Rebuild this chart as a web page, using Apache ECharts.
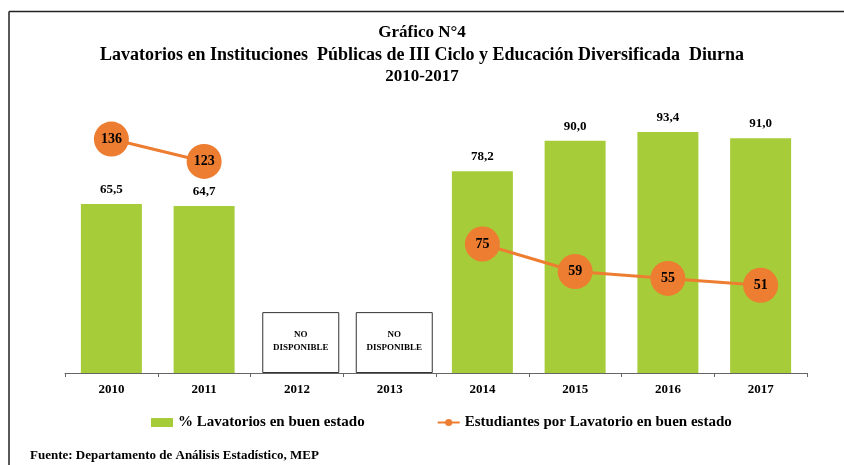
<!DOCTYPE html>
<html>
<head>
<meta charset="utf-8">
<script src="https://cdn.jsdelivr.net/npm/echarts@6/dist/echarts.min.js"></script>
<style>
html,body{margin:0;padding:0;background:#fff;}
#main{width:844px;height:465px;}
</style>
</head>
<body>
<div id="main"></div>
<script>
const years = ['2010','2011','2012','2013','2014','2015','2016','2017'];
const pctBuenEstado = [65.5, 64.7, null, null, 78.2, 90.0, 93.4, 91.0];
const estudiantesPorLavatorio = [136, 123, null, null, 75, 59, 55, 51];
const noDisponible = [null, null, 23.6, 23.6, null, null, null, null];
const titleLines = ['Gráfico N°4', 'Lavatorios en Instituciones  Públicas de III Ciclo y Educación Diversificada  Diurna', '2010-2017'];
const sourceText = 'Fuente: Departamento de Análisis Estadístico, MEP';

const serif = '"Liberation Serif", "DejaVu Serif", serif';
const green = '#A6CD39';
const orange = '#ED7D31';

const chart = echarts.init(document.getElementById('main'));
chart.setOption({
  animation: false,
  backgroundColor: '#fff',
  title: {
    text: '{a|' + titleLines[0] + '}\n{b|' + titleLines[1] + '}\n{a|' + titleLines[2] + '}',
    left: 'center',
    top: 17,
    textStyle: {
      rich: {
        a: { fontFamily: serif, fontWeight: 'bold', fontSize: 17, color: '#000', lineHeight: 22 },
        b: { fontFamily: serif, fontWeight: 'bold', fontSize: 18, color: '#000', lineHeight: 22 }
      }
    }
  },
  legend: {
    left: 146,
    top: 410,
    itemGap: 72,
    itemWidth: 22,
    itemHeight: 9,
    textStyle: { fontFamily: serif, fontWeight: 'bold', fontSize: 15, color: '#000' },
    data: [
      { name: '% Lavatorios en buen estado', icon: 'rect' },
      { name: 'Estudiantes por Lavatorio en buen estado' }
    ]
  },
  graphic: [
    { type: 'line', shape: { x1: 9, y1: 11.5, x2: 844, y2: 11.5 }, style: { stroke: '#222', lineWidth: 1.5 } },
    { type: 'line', shape: { x1: 9, y1: 11.5, x2: 9, y2: 465 }, style: { stroke: '#222', lineWidth: 1.5 } },
    { type: 'text', left: 30, top: 449, style: { text: sourceText, font: 'bold 13px ' + serif, fill: '#000' } }
  ],
  grid: [
    { left: 65, right: 37, top: 115, bottom: 92 },
    { left: 67, right: 29, top: 115, bottom: 92 }
  ],
  xAxis: [
    {
      type: 'category',
      data: years,
      axisLine: { lineStyle: { color: '#666', width: 1 } },
      axisTick: { show: true, length: 4, lineStyle: { color: '#666' } },
      axisLabel: { fontFamily: serif, fontWeight: 'bold', fontSize: 13, color: '#000', margin: 10 }
    },
    { type: 'category', data: years, show: false, gridIndex: 1 }
  ],
  yAxis: [
    { type: 'value', min: 0, max: 100, show: false, splitLine: { show: false } },
    { type: 'value', min: 0, max: 150, show: false, splitLine: { show: false } },
    { type: 'value', min: 0, max: 100, show: false, splitLine: { show: false }, gridIndex: 1 }
  ],
  series: [
    {
      name: '% Lavatorios en buen estado',
      type: 'bar',
      data: pctBuenEstado,
      barWidth: 61,
      itemStyle: { color: green },
      label: {
        show: true,
        position: 'top',
        distance: 8,
        fontFamily: serif, fontWeight: 'bold', fontSize: 13, color: '#000',
        formatter: p => p.value == null ? '' : p.value.toFixed(1).replace('.', ',')
      },
      z: 2
    },
    {
      name: 'NO DISPONIBLE',
      type: 'bar',
      xAxisIndex: 1,
      yAxisIndex: 2,
      data: noDisponible,
      barWidth: 77,
      itemStyle: { color: '#fff', borderColor: '#333', borderWidth: 1 },
      label: {
        show: true,
        position: 'inside',
        offset: [0, -1],
        formatter: 'NO\nDISPONIBLE',
        fontFamily: serif, fontWeight: 'bold', fontSize: 9, color: '#000', lineHeight: 13
      },
      z: 1
    },
    {
      name: 'Estudiantes por Lavatorio en buen estado',
      type: 'line',
      yAxisIndex: 1,
      data: estudiantesPorLavatorio,
      connectNulls: false,
      symbol: 'circle',
      symbolSize: 35,
      lineStyle: { color: orange, width: 3 },
      itemStyle: { color: orange },
      label: {
        show: true,
        position: 'inside',
        fontFamily: serif, fontWeight: 'bold', fontSize: 14, color: '#000'
      },
      z: 5
    }
  ]
});
</script>
</body>
</html>
